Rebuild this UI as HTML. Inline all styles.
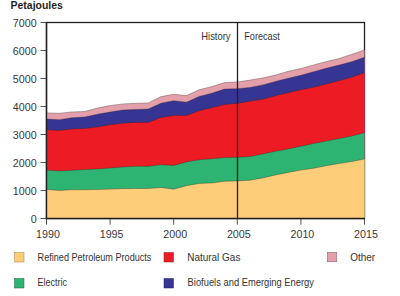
<!DOCTYPE html>
<html><head><meta charset="utf-8">
<style>
html,body{margin:0;padding:0;background:#fff;}
body{width:400px;height:296px;overflow:hidden;position:relative;}
svg{position:absolute;left:0;top:0;}
.ax{font-family:"Liberation Sans",sans-serif;font-size:10.7px;fill:#383838;}
.lg{font-family:"Liberation Sans",sans-serif;font-size:10.2px;fill:#333;}
.tt{font-family:"Liberation Sans",sans-serif;font-size:10px;font-weight:bold;fill:#231F20;}
.hf{font-family:"Liberation Sans",sans-serif;font-size:10.4px;fill:#333;}
</style></head>
<body>
<svg width="400" height="296" viewBox="0 0 400 296">
<rect x="0" y="0" width="400" height="296" fill="#fff"/>
<text x="10.6" y="9.3" class="tt" textLength="52.2" lengthAdjust="spacingAndGlyphs">Petajoules</text>
<rect x="46.5" y="22.5" width="318" height="196" fill="none" stroke="#231F20" stroke-width="1.3"/>
<path d="M46.50,218.50 L46.50,112.90 L59.22,113.30 L71.94,111.90 L84.66,111.50 L97.38,108.10 L110.10,105.60 L122.82,103.90 L135.54,103.30 L148.26,102.90 L160.98,96.60 L173.70,94.30 L186.42,95.60 L199.14,89.70 L211.86,86.60 L224.58,82.60 L237.30,81.90 L250.02,80.10 L262.74,77.90 L275.46,75.10 L288.18,71.30 L300.90,68.60 L313.62,64.90 L326.34,61.60 L339.06,58.50 L351.78,54.30 L364.50,49.90 L364.50,218.50 Z" fill="#E3A0AA"/>
<path d="M46.50,218.50 L46.50,119.00 L59.22,119.70 L71.94,117.70 L84.66,117.00 L97.38,114.20 L110.10,112.00 L122.82,110.00 L135.54,109.40 L148.26,109.00 L160.98,103.20 L173.70,100.70 L186.42,102.20 L199.14,96.40 L211.86,93.20 L224.58,89.10 L237.30,88.70 L250.02,87.50 L262.74,84.90 L275.46,81.40 L288.18,78.20 L300.90,75.30 L313.62,71.70 L326.34,68.20 L339.06,65.10 L351.78,61.70 L364.50,57.20 L364.50,218.50 Z" fill="#363593"/>
<path d="M46.50,218.50 L46.50,129.80 L59.22,130.50 L71.94,129.10 L84.66,128.50 L97.38,126.90 L110.10,124.80 L122.82,123.20 L135.54,122.40 L148.26,122.40 L160.98,117.60 L173.70,115.40 L186.42,115.60 L199.14,110.70 L211.86,107.70 L224.58,104.60 L237.30,103.40 L250.02,101.20 L262.74,99.20 L275.46,95.70 L288.18,92.70 L300.90,89.70 L313.62,87.30 L326.34,84.00 L339.06,80.70 L351.78,77.20 L364.50,72.70 L364.50,218.50 Z" fill="#ED1C24"/>
<path d="M46.50,218.50 L46.50,170.00 L59.22,171.00 L71.94,170.30 L84.66,169.60 L97.38,168.90 L110.10,168.00 L122.82,166.90 L135.54,166.30 L148.26,166.30 L160.98,164.80 L173.70,165.40 L186.42,161.90 L199.14,159.80 L211.86,158.80 L224.58,157.60 L237.30,157.30 L250.02,156.60 L262.74,153.90 L275.46,151.30 L288.18,148.90 L300.90,146.20 L313.62,143.50 L326.34,141.00 L339.06,138.50 L351.78,136.00 L364.50,132.70 L364.50,218.50 Z" fill="#2DB473"/>
<path d="M46.50,218.50 L46.50,189.40 L59.22,190.40 L71.94,189.80 L84.66,189.80 L97.38,189.60 L110.10,189.10 L122.82,188.70 L135.54,188.50 L148.26,188.50 L160.98,187.50 L173.70,189.20 L186.42,185.70 L199.14,183.50 L211.86,183.00 L224.58,181.30 L237.30,180.90 L250.02,180.20 L262.74,177.90 L275.46,175.00 L288.18,172.40 L300.90,170.00 L313.62,168.30 L326.34,165.70 L339.06,163.50 L351.78,161.50 L364.50,159.00 L364.50,218.50 Z" fill="#FDCD79"/>
<path d="M46.50,112.90 L59.22,113.30 L71.94,111.90 L84.66,111.50 L97.38,108.10 L110.10,105.60 L122.82,103.90 L135.54,103.30 L148.26,102.90 L160.98,96.60 L173.70,94.30 L186.42,95.60 L199.14,89.70 L211.86,86.60 L224.58,82.60 L237.30,81.90 L250.02,80.10 L262.74,77.90 L275.46,75.10 L288.18,71.30 L300.90,68.60 L313.62,64.90 L326.34,61.60 L339.06,58.50 L351.78,54.30 L364.50,49.90" fill="none" stroke="#2a2020" stroke-width="0.55" stroke-opacity="0.6"/>
<path d="M46.50,119.00 L59.22,119.70 L71.94,117.70 L84.66,117.00 L97.38,114.20 L110.10,112.00 L122.82,110.00 L135.54,109.40 L148.26,109.00 L160.98,103.20 L173.70,100.70 L186.42,102.20 L199.14,96.40 L211.86,93.20 L224.58,89.10 L237.30,88.70 L250.02,87.50 L262.74,84.90 L275.46,81.40 L288.18,78.20 L300.90,75.30 L313.62,71.70 L326.34,68.20 L339.06,65.10 L351.78,61.70 L364.50,57.20" fill="none" stroke="#2a2020" stroke-width="0.55" stroke-opacity="0.6"/>
<path d="M46.50,129.80 L59.22,130.50 L71.94,129.10 L84.66,128.50 L97.38,126.90 L110.10,124.80 L122.82,123.20 L135.54,122.40 L148.26,122.40 L160.98,117.60 L173.70,115.40 L186.42,115.60 L199.14,110.70 L211.86,107.70 L224.58,104.60 L237.30,103.40 L250.02,101.20 L262.74,99.20 L275.46,95.70 L288.18,92.70 L300.90,89.70 L313.62,87.30 L326.34,84.00 L339.06,80.70 L351.78,77.20 L364.50,72.70" fill="none" stroke="#2a2020" stroke-width="0.55" stroke-opacity="0.6"/>
<path d="M46.50,170.00 L59.22,171.00 L71.94,170.30 L84.66,169.60 L97.38,168.90 L110.10,168.00 L122.82,166.90 L135.54,166.30 L148.26,166.30 L160.98,164.80 L173.70,165.40 L186.42,161.90 L199.14,159.80 L211.86,158.80 L224.58,157.60 L237.30,157.30 L250.02,156.60 L262.74,153.90 L275.46,151.30 L288.18,148.90 L300.90,146.20 L313.62,143.50 L326.34,141.00 L339.06,138.50 L351.78,136.00 L364.50,132.70" fill="none" stroke="#2a2020" stroke-width="0.55" stroke-opacity="0.6"/>
<path d="M46.50,189.40 L59.22,190.40 L71.94,189.80 L84.66,189.80 L97.38,189.60 L110.10,189.10 L122.82,188.70 L135.54,188.50 L148.26,188.50 L160.98,187.50 L173.70,189.20 L186.42,185.70 L199.14,183.50 L211.86,183.00 L224.58,181.30 L237.30,180.90 L250.02,180.20 L262.74,177.90 L275.46,175.00 L288.18,172.40 L300.90,170.00 L313.62,168.30 L326.34,165.70 L339.06,163.50 L351.78,161.50 L364.50,159.00" fill="none" stroke="#2a2020" stroke-width="0.55" stroke-opacity="0.6"/>

<line x1="46.5" y1="22" x2="46.5" y2="219.2" stroke="#231F20" stroke-width="1.4"/>
<line x1="45.8" y1="218.5" x2="365" y2="218.5" stroke="#231F20" stroke-width="1.3"/>
<line x1="237.5" y1="22" x2="237.5" y2="218.5" stroke="#231F20" stroke-width="1.3"/>
<line x1="40.5" y1="218.50" x2="46.5" y2="218.50" stroke="#333" stroke-width="0.85"/>
<text x="36.6" y="223.20" text-anchor="end" class="ax">0</text>
<line x1="40.5" y1="190.50" x2="46.5" y2="190.50" stroke="#333" stroke-width="0.85"/>
<text x="36.6" y="195.20" text-anchor="end" class="ax">1000</text>
<line x1="40.5" y1="162.50" x2="46.5" y2="162.50" stroke="#333" stroke-width="0.85"/>
<text x="36.6" y="167.20" text-anchor="end" class="ax">2000</text>
<line x1="40.5" y1="134.50" x2="46.5" y2="134.50" stroke="#333" stroke-width="0.85"/>
<text x="36.6" y="139.20" text-anchor="end" class="ax">3000</text>
<line x1="40.5" y1="106.50" x2="46.5" y2="106.50" stroke="#333" stroke-width="0.85"/>
<text x="36.6" y="111.20" text-anchor="end" class="ax">4000</text>
<line x1="40.5" y1="78.50" x2="46.5" y2="78.50" stroke="#333" stroke-width="0.85"/>
<text x="36.6" y="83.20" text-anchor="end" class="ax">5000</text>
<line x1="40.5" y1="50.50" x2="46.5" y2="50.50" stroke="#333" stroke-width="0.85"/>
<text x="36.6" y="55.20" text-anchor="end" class="ax">6000</text>
<line x1="40.5" y1="22.50" x2="46.5" y2="22.50" stroke="#333" stroke-width="0.85"/>
<text x="36.6" y="27.20" text-anchor="end" class="ax">7000</text>

<line x1="46.50" y1="218.5" x2="46.50" y2="224.7" stroke="#333" stroke-width="0.85"/>
<text x="48.00" y="238.2" text-anchor="middle" class="ax">1990</text>
<line x1="110.10" y1="218.5" x2="110.10" y2="224.7" stroke="#333" stroke-width="0.85"/>
<text x="111.60" y="238.2" text-anchor="middle" class="ax">1995</text>
<line x1="173.70" y1="218.5" x2="173.70" y2="224.7" stroke="#333" stroke-width="0.85"/>
<text x="175.20" y="238.2" text-anchor="middle" class="ax">2000</text>
<line x1="237.30" y1="218.5" x2="237.30" y2="224.7" stroke="#333" stroke-width="0.85"/>
<text x="238.80" y="238.2" text-anchor="middle" class="ax">2005</text>
<line x1="300.90" y1="218.5" x2="300.90" y2="224.7" stroke="#333" stroke-width="0.85"/>
<text x="302.40" y="238.2" text-anchor="middle" class="ax">2010</text>
<line x1="364.50" y1="218.5" x2="364.50" y2="224.7" stroke="#333" stroke-width="0.85"/>
<text x="366.00" y="238.2" text-anchor="middle" class="ax">2015</text>

<text x="201.3" y="40.1" class="hf" textLength="29.2" lengthAdjust="spacingAndGlyphs">History</text>
<text x="244.3" y="40.1" class="hf" textLength="35.5" lengthAdjust="spacingAndGlyphs">Forecast</text>
<rect x="14.5" y="252.5" width="9.5" height="9.5" fill="#FDCD79" stroke="#a08050" stroke-width="0.5"/>
<rect x="14.5" y="278.5" width="9.5" height="9.5" fill="#2DB473" stroke="#206040" stroke-width="0.5"/>
<rect x="164" y="252.5" width="9.5" height="9.5" fill="#ED1C24" stroke="#802020" stroke-width="0.5"/>
<rect x="164" y="278.5" width="9.5" height="9.5" fill="#363593" stroke="#202060" stroke-width="0.5"/>
<rect x="327.3" y="252.3" width="9.5" height="9.5" fill="#E3A0AA" stroke="#806060" stroke-width="0.5"/>
<text x="37.6" y="260.7" class="lg" textLength="113.8" lengthAdjust="spacingAndGlyphs">Refined Petroleum Products</text>
<text x="37.6" y="286.4" class="lg" textLength="29.3" lengthAdjust="spacingAndGlyphs">Electric</text>
<text x="187.2" y="260.7" class="lg" textLength="53.2" lengthAdjust="spacingAndGlyphs">Natural Gas</text>
<text x="187.6" y="286.4" class="lg" textLength="126.4" lengthAdjust="spacingAndGlyphs">Biofuels and Emerging Energy</text>
<text x="350.2" y="260.7" class="lg" textLength="24.9" lengthAdjust="spacingAndGlyphs">Other</text>
</svg>
</body></html>
